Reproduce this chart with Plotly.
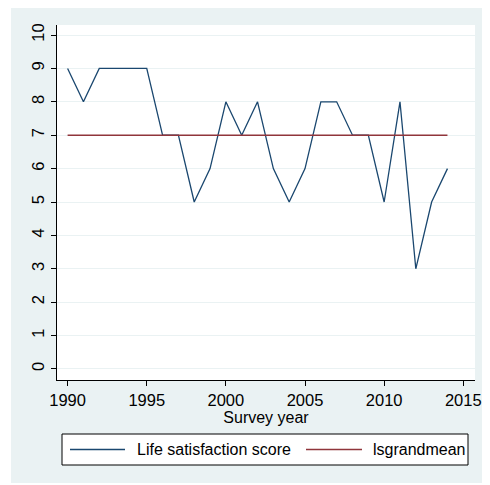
import plotly.graph_objects as go

years = list(range(1990, 2015))
life_sat = [9, 8, 9, 9, 9, 9, 7, 7, 5, 6, 8, 7, 8, 6, 5, 6, 8, 8, 7, 7, 5, 8, 3, 5, 6]
grand_mean = [7] * len(years)
x_ticks = [1990, 1995, 2000, 2005, 2010, 2015]
y_ticks = list(range(0, 11))
series_names = ["Life satisfaction score", "lsgrandmean"]
series_colors = ["#1A476F", "#90353B"]

BG = "#EAF2F3"
FONT = "Liberation Sans, Arial, sans-serif"

# page has an 8px body margin; work in page coordinates
OFF = 8
W, H = 490 - OFF, 485 - OFF
PL, PT, PR, PB = 57, 25, 475, 380  # plot area in page pixels
L, T = PL - OFF, PT - OFF
R, B = W - (PR - OFF), H - (PB - OFF)
pw, ph = PR - PL, PB - PT


def px(xp):
    return (xp - PL) / pw


def py(yp):
    return (PB - yp) / ph


fig = go.Figure()
fig.add_trace(go.Scatter(x=years, y=life_sat, mode="lines", name=series_names[0],
                         line=dict(color=series_colors[0], width=1.3), showlegend=False))
fig.add_trace(go.Scatter(x=years, y=grand_mean, mode="lines", name=series_names[1],
                         line=dict(color=series_colors[1], width=1.5), showlegend=False))

shapes = [
    dict(type="rect", xref="paper", yref="paper", layer="below",
         x0=px(11), x1=px(500), y0=py(483), y1=py(7),
         fillcolor=BG, line=dict(width=0)),
    dict(type="rect", xref="paper", yref="paper", layer="below",
         x0=0, x1=1, y0=0, y1=1, fillcolor="white", line=dict(width=0)),
    dict(type="rect", xref="paper", yref="paper", layer="above",
         x0=px(62), x1=px(468), y0=py(465), y1=py(434),
         fillcolor="white", line=dict(color="black", width=1)),
]
annotations = []
leg_y = 449.5
for name, color, x0, x1, xt in zip(series_names, series_colors, [70, 306], [125, 362], [135, 371]):
    shapes.append(dict(type="line", xref="paper", yref="paper", layer="above",
                       x0=px(x0), x1=px(x1), y0=py(leg_y), y1=py(leg_y),
                       line=dict(color=color, width=1.3)))
    annotations.append(dict(text=name, xref="paper", yref="paper", x=px(xt), y=py(leg_y),
                            xanchor="left", yanchor="middle", showarrow=False,
                            font=dict(size=16, color="black")))

fig.update_layout(
    width=W, height=H,
    margin=dict(l=L, r=R, t=T, b=B, pad=0),
    paper_bgcolor="white",
    plot_bgcolor="white",
    showlegend=False,
    font=dict(family=FONT, size=16, color="black"),
    shapes=shapes,
    annotations=annotations,
    xaxis=dict(range=[1989.33, 2015.74], tickvals=x_ticks, ticks="outside", ticklen=5,
               tickcolor="black", showline=True, linecolor="black", linewidth=1,
               showgrid=False, zeroline=False, automargin=False,
               tickfont=dict(size=16.5),
               title=dict(text="Survey year", standoff=0, font=dict(size=16))),
    yaxis=dict(range=[-0.33, 10.3], tickvals=y_ticks, ticks="outside", ticklen=5,
               tickcolor="black", showline=True, linecolor="black", linewidth=1,
               showgrid=True, gridcolor=BG, gridwidth=1, zeroline=False, tickangle=-90,
               automargin=False, tickfont=dict(size=16.5)),
)

fig.write_html("out.html")
